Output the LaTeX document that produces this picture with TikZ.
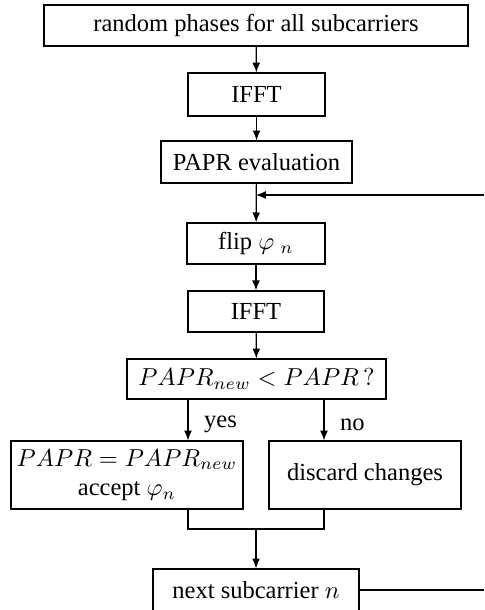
\documentclass[tikz,border=0pt]{standalone}
\usepackage{amsmath}
\usepackage{amssymb}
\usepackage{fontspec}
\setmainfont{Liberation Serif}
\usepackage{tikz}
\usetikzlibrary{arrows.meta}

\tikzset{
	blk/.style={draw, line width=0.5pt, minimum height=16.8pt, inner sep=2pt, align=center},
	arr/.style={-{Latex[length=4pt,width=3.2pt]}, line width=0.5pt},
	ln/.style={line width=0.5pt}
}

\begin{document}
\begin{tikzpicture}[x=0.408pt,y=-0.408pt]

	\useasboundingbox (0,0) rectangle (484,610);

	\node[blk, minimum width=173pt] (phases) at (256,25.5) {random phases for all subcarriers};
	\node[blk, minimum width=55.9pt, minimum height=17.5pt] (ifft1) at (256.5,94.5) {IFFT};
	\node[blk, minimum width=77.9pt, minimum height=17.1pt] (eval) at (256.5,162) {PAPR evaluation};
	\node[blk, minimum width=56.3pt] (flip) at (256,243.5) {flip $\varphi\ _n$};
	\node[blk, minimum width=55.5pt] (ifft2) at (256,311.5) {IFFT};
	\node[blk, minimum width=105.7pt, minimum height=16.3pt] (cmp) at (256.5,379) {$PAPR_{new} < PAPR\,?$};
	\node[blk, minimum width=94.7pt, minimum height=27.7pt] (accept) at (127,475) {$PAPR = PAPR_{new}$\\accept $\varphi_n$};
	\node[blk, minimum width=78.3pt, minimum height=27.7pt] (discard) at (365,475) {discard changes};
	\node[blk, minimum width=84pt, minimum height=17.1pt] (next) at (256,590) {next subcarrier $n$};

	\coordinate (loop) at (256,195);
	\coordinate (back) at (484,195);
	\coordinate (yestop) at (188,399);
	\coordinate (notop) at (324,399);
	\coordinate (yesbot) at (188,509);
	\coordinate (nobot) at (324,509);
	\coordinate (ymerge) at (188,529);
	\coordinate (nmerge) at (324,529);
	\coordinate (merge) at (256,529);
	\coordinate (out) at (484,590);

	\draw[arr] (phases) -- (ifft1);
	\draw[arr] (ifft1) -- (eval);
	\draw[arr] (eval) -- (flip);
	\draw[arr] (back) -- (loop);
	\draw[arr] (flip) -- (ifft2);
	\draw[arr] (ifft2) -- (cmp);
	\draw[arr] (yestop) -- (accept.north -| yestop) node[midway, right=3pt, yshift=-2pt] {yes};
	\draw[arr] (notop) -- (discard.north -| notop) node[midway, right=3pt, yshift=-2pt] {no};
	\draw[ln] (yesbot) -- (ymerge) -- (nmerge) -- (nobot);
	\draw[arr] (merge) -- (next);
	\draw[ln] (next) -- (out);

\end{tikzpicture}
\end{document}
